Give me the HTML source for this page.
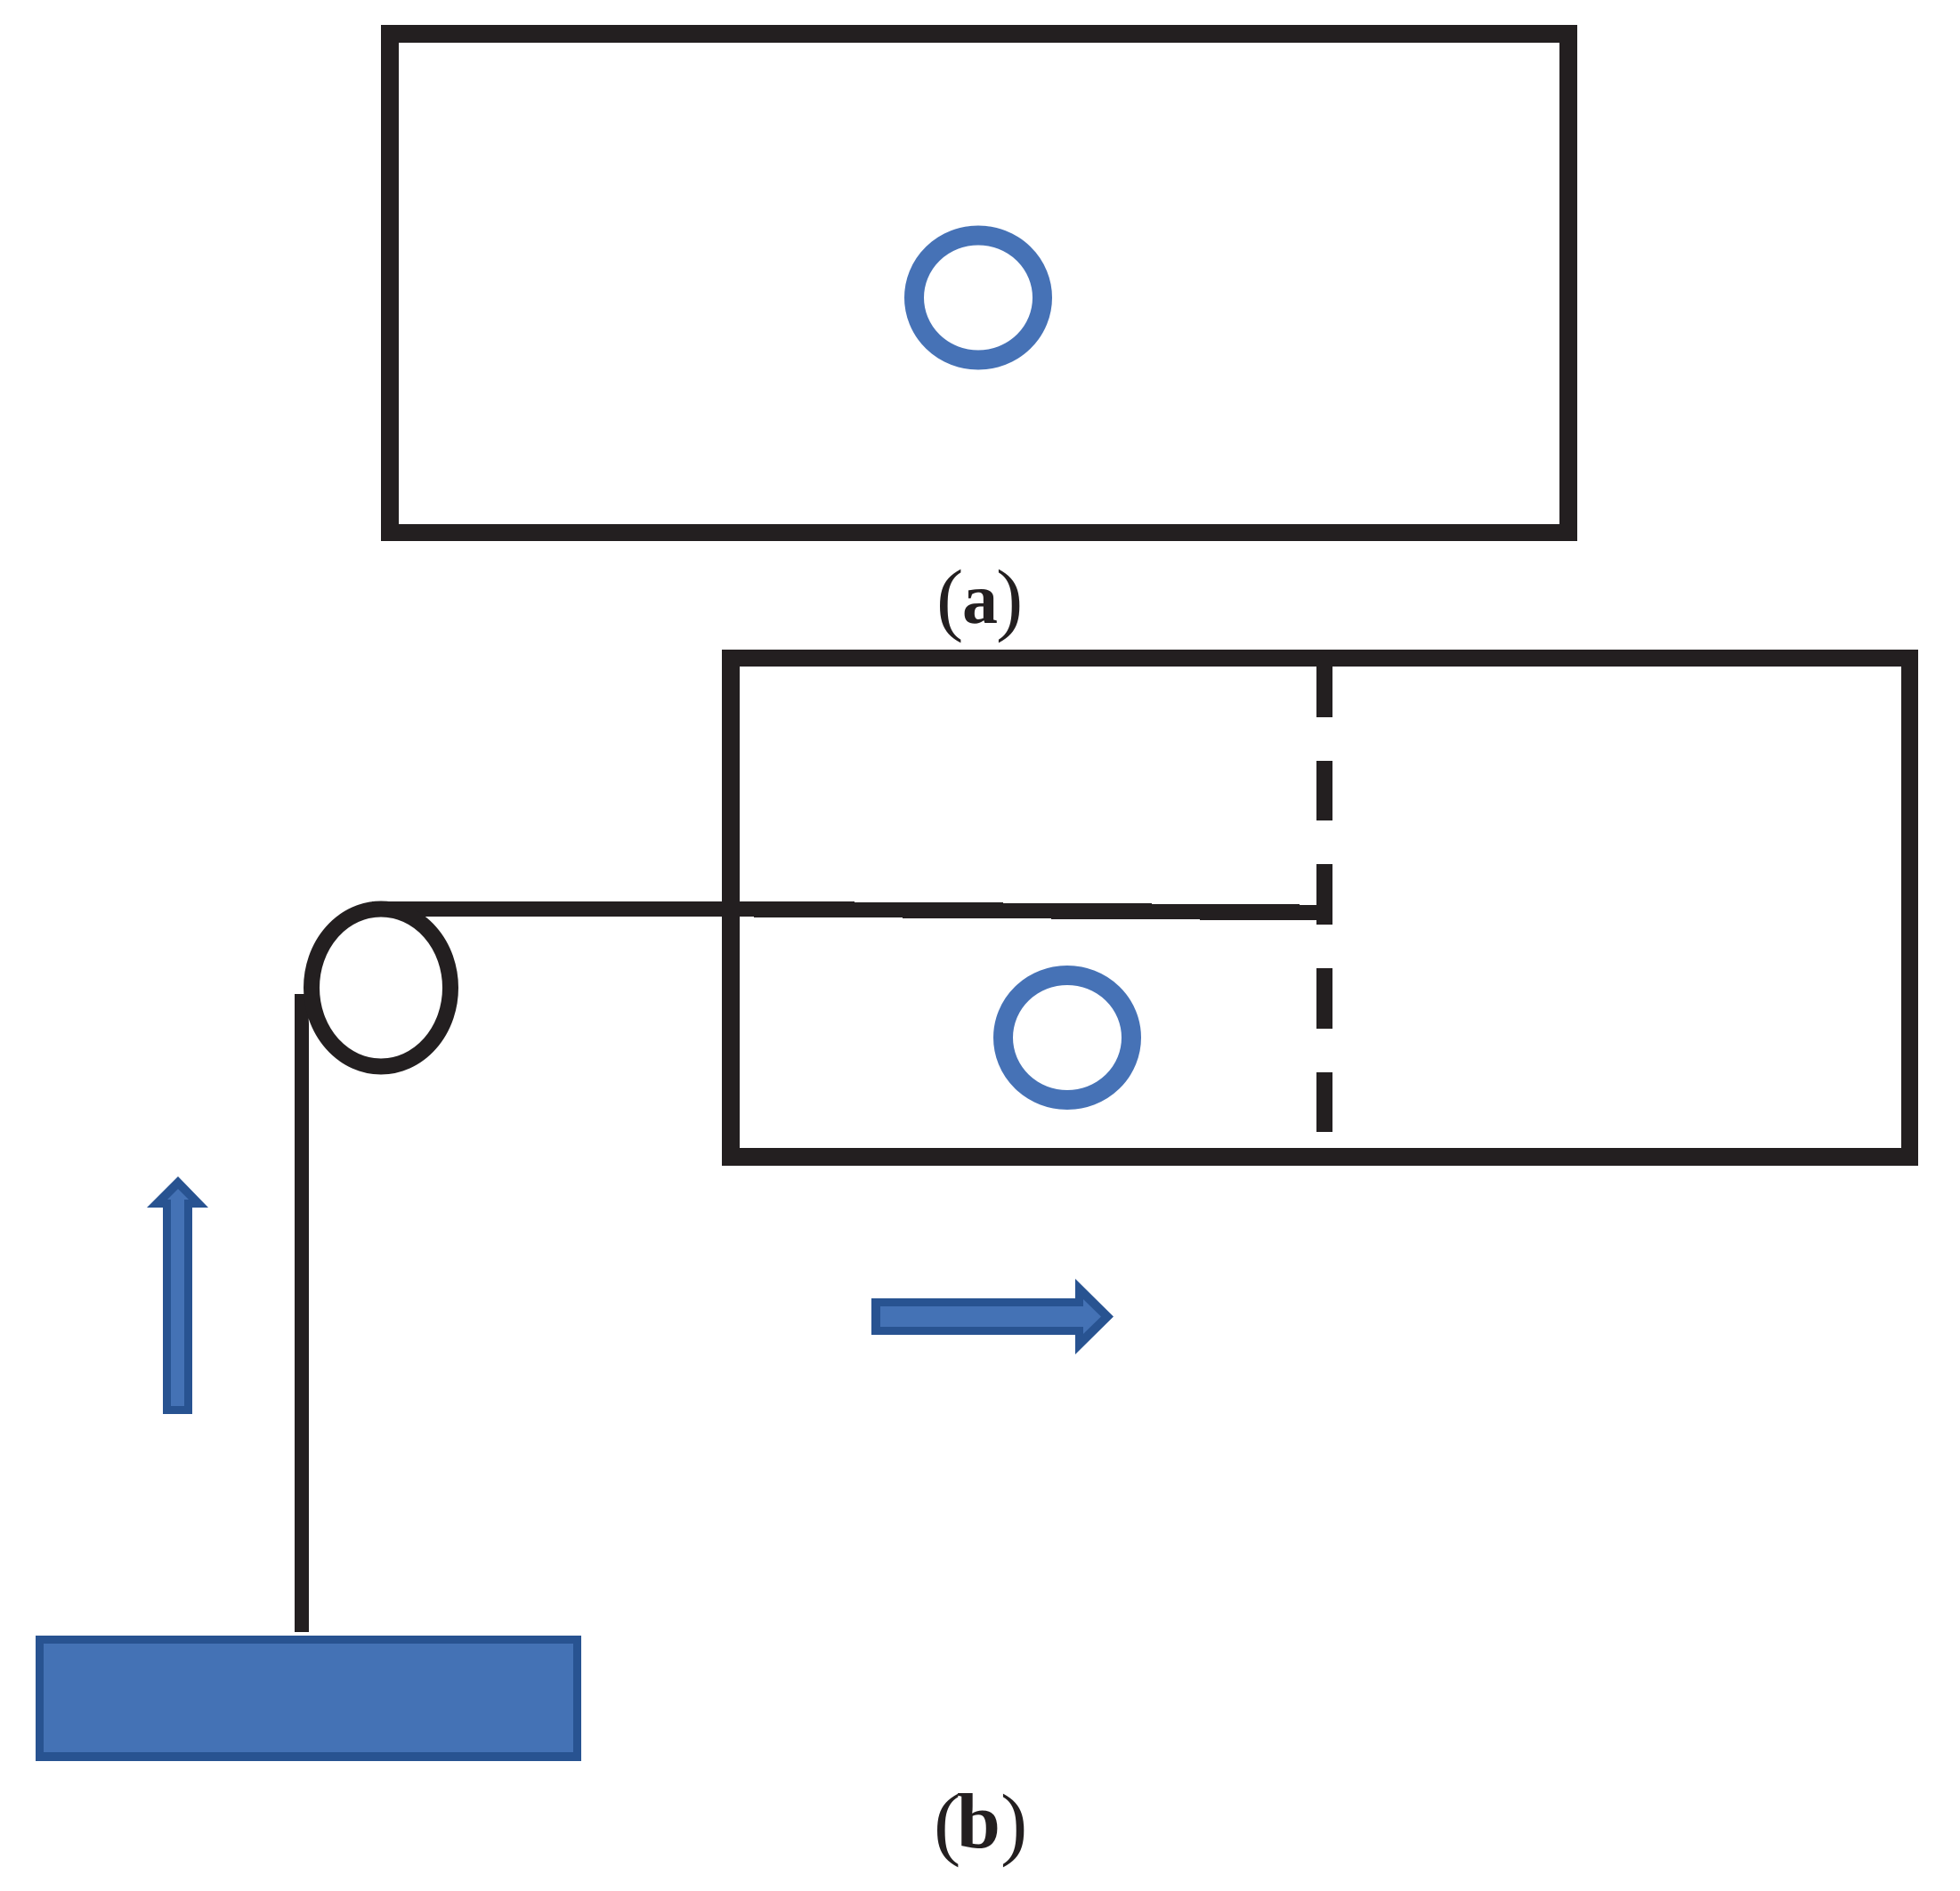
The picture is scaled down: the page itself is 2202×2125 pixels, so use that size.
<!DOCTYPE html>
<html>
<head>
<meta charset="utf-8">
<style>
html,body{margin:0;padding:0;background:#fff;width:2202px;height:2125px;overflow:hidden}
svg{display:block}
</style>
</head>
<body>
<svg width="2202" height="2125" viewBox="0 0 2202 2125" xmlns="http://www.w3.org/2000/svg">
<rect width="2202" height="2125" fill="#fff"/>
<!-- (a) frame -->
<path fill="#231f20" fill-rule="evenodd" d="M428 28H1772V608H428ZM448 48V589H1752V48Z"/>
<ellipse cx="1099" cy="334.5" rx="72" ry="70" fill="none" stroke="#4672b6" stroke-width="22"/>
<g font-family="'Liberation Serif',serif" fill="#231f20">
<text x="1052" y="703" font-size="91">(</text>
<text x="1081" y="700" font-size="80" font-weight="bold">a</text>
<text x="1119" y="703" font-size="91">)</text>
<text x="1049" y="2079" font-size="91">(</text>
<text x="1075" y="2076" font-size="88" font-weight="bold">b</text>
<text x="1124" y="2079" font-size="91">)</text>
</g>
<!-- (b) frame -->
<path fill="#231f20" fill-rule="evenodd" d="M811 730H2155V1310H811ZM831 749V1290H2136V749Z"/>
<!-- dashed line -->
<g fill="#231f20">
<rect x="1479" y="745" width="18" height="61"/>
<rect x="1479" y="855" width="18" height="67"/>
<rect x="1479" y="971" width="18" height="68"/>
<rect x="1479" y="1088" width="18" height="68"/>
<rect x="1479" y="1205" width="18" height="67"/>
<!-- rope horizontal -->
<polygon points="418,1013 960,1013 960,1014 1127,1014 1127,1015 1294,1015 1294,1016 1460,1016 1460,1017 1485,1017 1485,1034 1348,1034 1348,1033 1181,1033 1181,1032 1014,1032 1014,1031 847,1031 847,1030 418,1030"/>
<!-- rope vertical -->
<polygon points="331,1117 345,1117 347,1150 347,1834 331,1834"/>
</g>
<!-- pulley -->
<ellipse cx="428" cy="1110" rx="78" ry="88.500" fill="none" stroke="#231f20" stroke-width="18"/>
<!-- second circle -->
<ellipse cx="1199" cy="1166" rx="72" ry="70" fill="none" stroke="#4672b6" stroke-width="22"/>
<!-- up arrow -->
<polygon fill="#285391" points="200,1322 234,1357 216,1357 216,1589 183,1589 183,1357 165,1357"/>
<polygon fill="#4472b5" points="200,1336 212,1348 207,1348 207,1580 192,1580 192,1348 188,1348"/>
<!-- right arrow -->
<polygon fill="#285391" points="979,1459 1208,1459 1208,1437 1251,1479.500 1208,1522 1208,1500 979,1500"/>
<polygon fill="#4472b5" points="989,1468 1217,1468 1217,1460 1237,1479.500 1217,1499 1217,1491 989,1491"/>
<!-- weight -->
<rect x="40" y="1838" width="613" height="141" fill="#285391"/>
<rect x="49" y="1847" width="595" height="122" fill="#4472b5"/>
</svg>
</body>
</html>
